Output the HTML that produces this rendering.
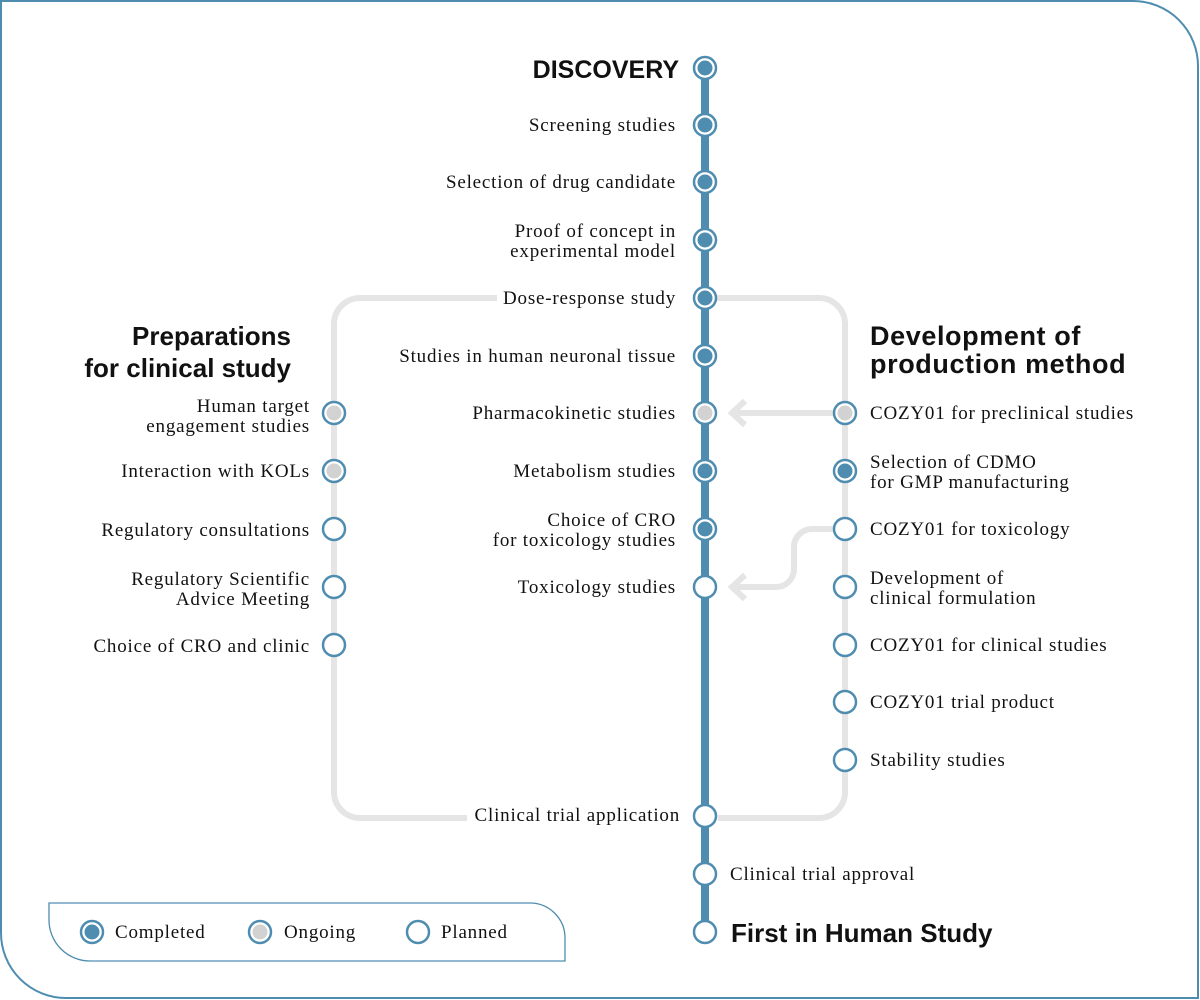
<!DOCTYPE html>
<html><head><meta charset="utf-8"><style>
html,body{margin:0;padding:0;background:#fff;width:1200px;height:1000px;overflow:hidden}
svg{display:block}
.t{font-family:"Liberation Serif",serif;font-size:19px;letter-spacing:0.8px;fill:#111}
.h{font-family:"Liberation Sans",sans-serif;font-weight:bold;font-size:26px;letter-spacing:0;fill:#111}
.h2{font-family:"Liberation Sans",sans-serif;font-weight:bold;font-size:27px;letter-spacing:0.6px;fill:#111}
</style></head><body>
<svg width="1200" height="1000" viewBox="0 0 1200 1000" xmlns="http://www.w3.org/2000/svg">
<defs>
<g id="c"><circle r="11" fill="#fff" stroke="#4f8db0" stroke-width="2.5"/><circle r="7.5" fill="#4f8db0"/></g>
<g id="o"><circle r="11" fill="#fff" stroke="#4f8db0" stroke-width="2.5"/><circle r="7.5" fill="#d2d2d2"/></g>
<g id="p"><circle r="11" fill="#fff" stroke="#4f8db0" stroke-width="2.5"/></g>
</defs>
<path d="M1,1 H1133 A65,65 0 0 1 1198,66 V998 H66 A65,65 0 0 1 1,933 Z" fill="none" stroke="#4f8db0" stroke-width="2"/>
<!-- legend -->
<path d="M49,903 H530 A35,35 0 0 1 565,938 V961 H90 A41,41 0 0 1 49,920 Z" fill="none" stroke="#4f8db0" stroke-width="1.3"/>
<use href="#c" x="92" y="932"/><text class="t" x="115" y="938">Completed</text>
<use href="#o" x="260" y="932"/><text class="t" x="284" y="938">Ongoing</text>
<use href="#p" x="418" y="932"/><text class="t" x="441" y="938">Planned</text>
<!-- gray loops -->
<g fill="none" stroke="#e5e5e5" stroke-width="6">
<path d="M497,298 H360 A26,26 0 0 0 334,324 V792 A26,26 0 0 0 360,818 H467"/>
<path d="M705,298 H819 A26,26 0 0 1 845,324 V792 A26,26 0 0 1 819,818 H718"/>
<path d="M834,413 H732"/>
<path d="M833,529 H812 A18,18 0 0 0 794,547 V569 A18,18 0 0 1 776,587 H732"/>
<path d="M745,401 L732,413 L745,425"/>
<path d="M745,575 L732,587 L745,599"/>
</g>
<!-- main line -->
<line x1="705" y1="68" x2="705" y2="932" stroke="#4f8db0" stroke-width="8"/>
<!-- center nodes -->
<use href="#c" x="705" y="68"/><use href="#c" x="705" y="125"/><use href="#c" x="705" y="182"/>
<use href="#c" x="705" y="240"/><use href="#c" x="705" y="298"/><use href="#c" x="705" y="356"/>
<use href="#o" x="705" y="413"/><use href="#c" x="705" y="471"/><use href="#c" x="705" y="529"/>
<use href="#p" x="705" y="587"/><use href="#p" x="705" y="816"/><use href="#p" x="705" y="874"/>
<use href="#p" x="705" y="932"/>
<!-- left nodes -->
<use href="#o" x="334" y="413"/><use href="#o" x="334" y="471"/><use href="#p" x="334" y="529"/>
<use href="#p" x="334" y="587"/><use href="#p" x="334" y="645"/>
<!-- right nodes -->
<use href="#o" x="845" y="413"/><use href="#c" x="845" y="471"/><use href="#p" x="845" y="529"/>
<use href="#p" x="845" y="587"/><use href="#p" x="845" y="645"/><use href="#p" x="845" y="702"/>
<use href="#p" x="845" y="760"/>
<!-- center labels -->
<g class="t" text-anchor="end">
<text class="h" x="679" y="78" style="font-size:25px">DISCOVERY</text>
<text x="676" y="131">Screening studies</text>
<text x="676" y="188">Selection of drug candidate</text>
<text x="676" y="237">Proof of concept in</text>
<text x="676" y="257">experimental model</text>
<text x="676" y="304">Dose-response study</text>
<text x="676" y="362">Studies in human neuronal tissue</text>
<text x="676" y="419">Pharmacokinetic studies</text>
<text x="676" y="477">Metabolism studies</text>
<text x="676" y="526">Choice of CRO</text>
<text x="676" y="546">for toxicology studies</text>
<text x="676" y="593">Toxicology studies</text>
<text x="680" y="821">Clinical trial application</text>
<!-- left -->
<text class="h" x="291" y="345">Preparations</text>
<text class="h" x="291" y="377">for clinical study</text>
<text x="310" y="412">Human target</text>
<text x="310" y="432">engagement studies</text>
<text x="310" y="477">Interaction with KOLs</text>
<text x="310" y="536">Regulatory consultations</text>
<text x="310" y="585">Regulatory Scientific</text>
<text x="310" y="605">Advice Meeting</text>
<text x="310" y="652">Choice of CRO and clinic</text>
</g>
<g class="t">
<text class="h2" x="870" y="345">Development of</text>
<text class="h2" x="870" y="373">production method</text>
<text x="870" y="419">COZY01 for preclinical studies</text>
<text x="870" y="468">Selection of CDMO</text>
<text x="870" y="488">for GMP manufacturing</text>
<text x="870" y="535">COZY01 for toxicology</text>
<text x="870" y="584">Development of</text>
<text x="870" y="604">clinical formulation</text>
<text x="870" y="651">COZY01 for clinical studies</text>
<text x="870" y="708">COZY01 trial product</text>
<text x="870" y="766">Stability studies</text>
<text x="730" y="880">Clinical trial approval</text>
<text class="h" x="731" y="942">First in Human Study</text>
</g>
</svg>
</body></html>
